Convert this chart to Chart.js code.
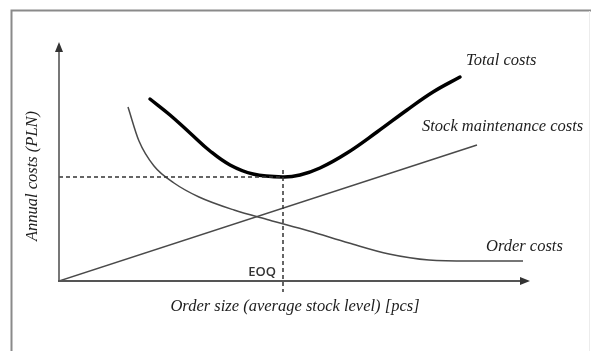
<!DOCTYPE html>
<html>
<head>
<meta charset="utf-8">
<script src="https://cdn.jsdelivr.net/npm/chart.js@4/dist/chart.umd.min.js"></script>
<style>
  html, body { margin: 0; padding: 0; background: #fff; }
  canvas { display: block; }
</style>
</head>
<body>
<canvas id="chart" width="591" height="351"></canvas>
<script>
// Data (arbitrary units; origin at the axes corner)
const totalX = [91, 111, 131, 151, 171, 194, 224, 241, 261, 288, 318, 348, 374, 401];
const totalY = [182, 166, 148, 130, 116, 107, 104, 106, 113, 128, 149, 171, 189, 204];

const orderX = [69, 80, 95, 115, 140, 175, 210, 250, 290, 330, 370, 410, 464];
const orderY = [174, 140, 115, 98, 84, 71, 61, 50, 38, 27, 21, 20, 20];

const stockX = [0, 418];
const stockY = [0, 136];

const eoq = 224;        // economic order quantity
const eoqCost = 104;    // minimum total cost

const axisMaxX = 471;
const axisMaxY = 239;

function pts(xs, ys) {
    return xs.map((x, i) => ({ x: x, y: ys[i] }));
}

// Frame, axes with arrows and the texts
const decor = {
    id: 'decor',
    beforeDraw(chart) {
        const c = chart.ctx;
        c.save();
        c.fillStyle = '#fff';
        c.fillRect(0, 0, chart.width, chart.height);
        c.strokeStyle = '#8a8a8a';
        c.lineWidth = 2;
        c.beginPath();
        c.moveTo(11.5, 351);
        c.lineTo(11.5, 10.5);
        c.lineTo(591, 10.5);
        c.stroke();
        c.strokeStyle = '#ececec';
        c.lineWidth = 1;
        c.beginPath();
        c.moveTo(589.5, 11);
        c.lineTo(589.5, 351);
        c.stroke();
        c.restore();
    },
    afterDraw(chart) {
        const c = chart.ctx;
        const xs = chart.scales.x, ys = chart.scales.y;
        const x0 = xs.getPixelForValue(0), y0 = ys.getPixelForValue(0);
        const xEnd = xs.getPixelForValue(axisMaxX), yEnd = ys.getPixelForValue(axisMaxY);
        c.save();
        c.strokeStyle = '#555';
        c.fillStyle = '#333';
        // y axis
        c.lineWidth = 1.6;
        c.beginPath();
        c.moveTo(x0, y0);
        c.lineTo(x0, yEnd + 8);
        c.stroke();
        c.beginPath();
        c.moveTo(x0, yEnd);
        c.lineTo(x0 - 4, yEnd + 10);
        c.lineTo(x0 + 4, yEnd + 10);
        c.closePath();
        c.fill();
        // x axis
        c.lineWidth = 2.2;
        c.beginPath();
        c.moveTo(x0 - 1, y0);
        c.lineTo(xEnd - 8, y0);
        c.stroke();
        c.beginPath();
        c.moveTo(xEnd, y0);
        c.lineTo(xEnd - 10, y0 - 4);
        c.lineTo(xEnd - 10, y0 + 4);
        c.closePath();
        c.fill();

        // texts
        c.fillStyle = '#1e1e1e';
        c.textBaseline = 'middle';
        c.font = 'italic 16.5px "Liberation Serif", serif';
        c.textAlign = 'left';
        c.fillText('Total costs', 466, 61);
        c.fillText('Stock maintenance costs', 422, 127);
        c.fillText('Order costs', 486, 247);
        c.textAlign = 'center';
        c.fillText('Order size (average stock level) [pcs]', 295, 307);
        c.save();
        c.translate(33, 176);
        c.rotate(-Math.PI / 2);
        c.fillText('Annual costs (PLN)', 0, 0);
        c.restore();
        c.font = '600 13px "Open Sans", sans-serif';
        c.fillStyle = '#333';
        c.textAlign = 'right';
        c.fillText('EOQ', xs.getPixelForValue(eoq) - 7, 272);
        c.restore();
    }
};

const data = {
    datasets: [
        {
            label: 'EOQ level',
            data: [{ x: 0, y: eoqCost }, { x: eoq, y: eoqCost }],
            borderColor: '#333',
            borderWidth: 1.5,
            borderDash: [4, 3],
            pointRadius: 0
        },
        {
            label: 'EOQ',
            data: [{ x: eoq, y: 111 }, { x: eoq, y: -11 }],
            borderColor: '#333',
            borderWidth: 1.5,
            borderDash: [4, 3],
            pointRadius: 0,
            clip: false
        },
        {
            label: 'Stock maintenance costs',
            data: pts(stockX, stockY),
            borderColor: '#4a4a4a',
            borderWidth: 1.5,
            pointRadius: 0
        },
        {
            label: 'Order costs',
            data: pts(orderX, orderY),
            borderColor: '#4a4a4a',
            borderWidth: 1.5,
            pointRadius: 0,
            cubicInterpolationMode: 'monotone'
        },
        {
            label: 'Total costs',
            data: pts(totalX, totalY),
            borderColor: '#000',
            borderWidth: 3.5,
            borderCapStyle: 'round',
            pointRadius: 0,
            tension: 0.4
        }
    ]
};

const config = {
    type: 'line',
    data: data,
    options: {
        responsive: false,
        animation: false,
        layout: { padding: { left: 59, top: 42, right: 61, bottom: 70 } },
        plugins: {
            legend: { display: false },
            tooltip: { enabled: false }
        },
        scales: {
            x: { type: 'linear', min: 0, max: axisMaxX, display: false },
            y: { type: 'linear', min: 0, max: axisMaxY, display: false }
        }
    },
    plugins: [decor]
};

const chart = new Chart(document.getElementById('chart'), config);
</script>
</body>
</html>
